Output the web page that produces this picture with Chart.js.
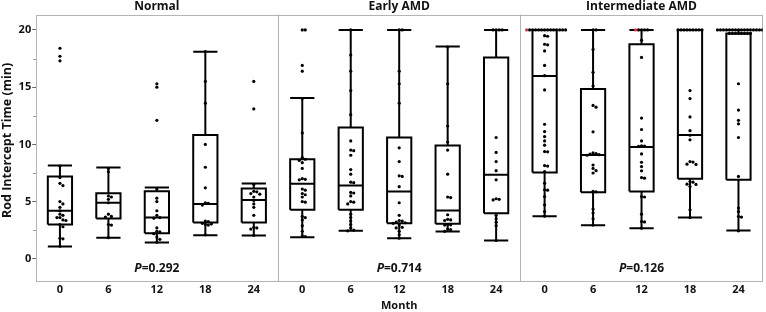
<!DOCTYPE html>
<html>
<head>
<meta charset="utf-8">
<script src="https://cdn.jsdelivr.net/npm/chart.js@4/dist/chart.umd.min.js"></script>
<style>
html,body{margin:0;padding:0;background:#fff;}
canvas{display:block;}
</style>
</head>
<body>
<canvas id="c" width="766" height="312"></canvas>
<script>
// ---------- data ----------
const months = ['0', '6', '12', '18', '24'];
const panels = ['Normal', 'Early AMD', 'Intermediate AMD'];
const pValues = ['0.292', '0.714', '0.126'];
const yTicks = [0, 5, 10, 15, 20];
const yTitle = 'Rod Intercept Time (min)';

// box statistics, 15 entries: Normal 0..24, Early AMD 0..24, Intermediate AMD 0..24
const whiskerLow  = [1.07, 1.83, 1.43, 2.07, 2.04,  1.89, 2.45, 1.80, 2.39, 1.60,  3.73, 2.94, 2.68, 3.61, 2.47];
const q1          = [3.00, 3.52, 2.24, 3.17, 3.17,  4.28, 4.28, 3.11, 3.06, 3.99,  7.54, 5.82, 5.88, 6.99, 6.90];
const median      = [4.19, 4.89, 3.61, 4.80, 5.15,  6.55, 6.40, 5.88, 4.22, 7.34, 15.98, 9.08, 9.78, 10.83, 19.70];
const q3          = [7.19, 5.74, 5.91, 10.83, 6.14, 8.70, 11.47, 10.60, 9.90, 17.60, 20.0, 14.85, 18.75, 20.0, 19.70];
const whiskerHigh = [8.15, 7.97, 6.23, 18.10, 6.58, 14.06, 20.0, 20.0, 18.55, 20.0,  20.0, 20.0, 20.0, 20.0, 20.0];

const normalPoints = [
  [18.4, 17.7, 17.3, 8.1, 7.1, 6.6, 6.4, 5.0, 4.8, 4.5, 4.2, 3.9, 3.8, 3.6, 3.6, 3.4, 3.35, 3.0, 2.8, 1.8, 1.75, 1.1],
  [7.9, 7.6, 5.5, 5.4, 5.2, 4.9, 3.9, 3.7, 3.65, 3.0, 2.95, 1.85],
  [15.3, 15.0, 12.1, 6.1, 5.3, 5.0, 4.2, 3.8, 3.6, 3.55, 2.7, 2.4, 2.35, 2.2, 1.9, 1.7, 1.45],
  [18.1, 15.5, 13.6, 10.0, 8.0, 6.2, 4.9, 4.85, 4.7, 3.3, 3.25, 3.1, 3.05, 3.0, 2.95, 2.1],
  [15.5, 13.1, 6.5, 5.9, 5.85, 5.7, 5.65, 5.4, 5.1, 4.8, 4.5, 3.8, 2.75, 2.7, 2.6, 2.05]
];
const earlyPoints = [
  [20, 20, 16.9, 16.4, 14.0, 11.0, 8.85, 8.7, 8.6, 8.4, 7.9, 7.0, 6.95, 6.9, 6.1, 6.0, 5.7, 5.6, 5.4, 5.0, 4.95, 3.7, 3.6, 3.4, 2.9, 2.4, 2.0, 1.95],
  [20, 17.8, 16.4, 14.7, 12.6, 10.3, 9.5, 9.45, 9.05, 7.8, 7.4, 6.7, 6.65, 5.8, 5.75, 5.5, 5.0, 4.95, 4.8, 3.9, 3.6, 3.3, 3.0, 2.7, 2.5, 2.45],
  [20, 20, 16.4, 15.3, 13.6, 9.7, 8.5, 7.25, 7.2, 6.3, 4.9, 3.8, 3.35, 3.3, 3.2, 3.15, 3.1, 2.95, 2.75, 2.7, 2.4, 2.1, 1.8],
  [18.5, 15.3, 11.6, 10.2, 9.5, 7.4, 5.4, 5.35, 3.85, 3.45, 3.4, 3.35, 3.0, 2.97, 2.95, 2.6, 2.55, 2.4],
  [20, 20, 20, 20, 10.6, 9.3, 8.5, 7.7, 6.9, 5.25, 5.2, 5.15, 3.8, 3.5, 3.2, 2.9, 1.6]
];
const intermediatePoints = [
  [20, 20, 20, 20, 20, 20, 20, 20, 20, 20, 20, 20, 20, 20, 19.5, 19.45, 18.75, 18.7, 18.17, 16.9, 16.0, 14.76, 11.76, 11.12, 10.68, 10.3, 9.93, 9.37, 9.35, 8.15, 8.1, 7.63, 6.61, 6.03, 6.0, 5.44, 4.72, 4.13, 3.73],
  [20, 20, 18.3, 16.3, 15.1, 13.4, 13.25, 11.1, 9.25, 9.2, 9.15, 9.1, 9.05, 8.2, 7.9, 7.7, 7.5, 5.9, 5.85, 4.35, 4.0, 3.5, 2.95],
  [20, 20, 20, 20, 20, 19.1, 17.6, 12.3, 11.3, 10.3, 9.87, 9.85, 9.83, 9.17, 8.44, 8.06, 7.69, 7.1, 7.05, 5.44, 5.4, 3.9, 3.26, 3.22, 2.68],
  [20, 20, 20, 20, 20, 20, 20, 20, 20, 14.7, 14.0, 12.4, 11.2, 10.8, 10.4, 8.5, 8.45, 8.27, 8.25, 6.75, 6.7, 6.52, 6.5, 6.32, 4.28, 3.6],
  [20, 20, 20, 20, 20, 20, 20, 20, 20, 20, 20, 20, 20, 20, 20, 20, 19.7, 19.7, 19.7, 19.7, 19.7, 19.7, 19.7, 19.7, 15.3, 13.0, 12.1, 11.8, 10.6, 7.2, 4.43, 4.13, 3.69, 3.65, 2.45]
];
// highlighted (red) rows: [panel, month index, value]
const highlighted = [[2, 0, 20], [2, 2, 20]];

// ---------- build datasets ----------
const BOX_HALF = 0.25;
const PX_X = 48.47, PX_Y = 11.45, DOT = 3.0; // approx pixel scale, only for swarm spreading
const allGroups = [normalPoints, earlyPoints, intermediatePoints];

const boxData = [];
for (let i = 0; i < 15; i++) {
  const c = i, a = c - BOX_HALF, b = c + BOX_HALF;
  const br = () => boxData.push({x: c, y: null});
  boxData.push({x: a, y: q1[i]}, {x: b, y: q1[i]}, {x: b, y: q3[i]}, {x: a, y: q3[i]}, {x: a, y: q1[i]}); br();
  boxData.push({x: a, y: median[i]}, {x: b, y: median[i]}); br();
  boxData.push({x: c, y: q3[i]}, {x: c, y: whiskerHigh[i]}); br();
  boxData.push({x: a, y: whiskerHigh[i]}, {x: b, y: whiskerHigh[i]}); br();
  boxData.push({x: c, y: q1[i]}, {x: c, y: whiskerLow[i]}); br();
  boxData.push({x: a, y: whiskerLow[i]}, {x: b, y: whiskerLow[i]}); br();
}

const pointData = [], pointColors = [];
allGroups.forEach((group, p) => {
  group.forEach((vals, m) => {
    const c = p * 5 + m;
    const placed = [];
    const step = DOT / PX_X;
    vals.forEach(v => {
      let k = 0, off = 0;
      for (;;) {
        off = (k === 0 ? 0 : (k % 2 ? 1 : -1) * Math.ceil(k / 2)) * step;
        const hit = placed.some(q => {
          const dx = (q.off - off) * PX_X, dy = (q.v - v) * PX_Y;
          return dx * dx + dy * dy < DOT * DOT * 0.95;
        });
        if (!hit) break;
        k++;
      }
      placed.push({v, off});
    });
    const red = new Set();
    highlighted.filter(h => h[0] === p && h[1] === m).forEach(h => {
      let best = -1;
      placed.forEach((q, idx) => { if (q.v === h[2] && (best < 0 || q.off < placed[best].off)) best = idx; });
      if (best >= 0) red.add(best);
    });
    placed.forEach((q, idx) => {
      pointData.push({x: c + q.off, y: q.v});
      pointColors.push(red.has(idx) ? '#e0304a' : '#000');
    });
  });
});

const FONT = "'Open Sans', 'DejaVu Sans', sans-serif";

const decor = {
  id: 'decor',
  beforeDatasetsDraw(chart) {
    const {ctx, chartArea: ca, scales: {x, y}} = chart;
    ctx.save();
    ctx.strokeStyle = '#b4b4b4';
    ctx.lineWidth = 1;
    ctx.strokeRect(Math.round(ca.left) + 0.5, Math.round(ca.top) + 0.5, Math.round(ca.right - ca.left) - 1, Math.round(ca.bottom - ca.top) - 1);
    [4.5, 9.5].forEach(v => {
      const px = Math.round(x.getPixelForValue(v)) + 0.5;
      ctx.beginPath(); ctx.moveTo(px, ca.top); ctx.lineTo(px, ca.bottom); ctx.stroke();
    });
    // minor y ticks
    ctx.strokeStyle = '#888';
    for (let v = 2.5; v < 21; v += 5) {
      const py = Math.round(y.getPixelForValue(v)) + 0.5;
      ctx.beginPath(); ctx.moveTo(ca.left - 2.5, py); ctx.lineTo(ca.left, py); ctx.stroke();
    }
    ctx.restore();
  },
  afterDraw(chart) {
    const {ctx, chartArea: ca, scales: {x, y}} = chart;
    ctx.save();
    ctx.fillStyle = '#111';
    ctx.textAlign = 'center';
    ctx.textBaseline = 'middle';
    // y axis title
    ctx.save();
    ctx.translate(7, y.getPixelForValue(10.35));
    ctx.rotate(-Math.PI / 2);
    ctx.font = `bold 12.5px ${FONT}`;
    ctx.fillText(yTitle, 0, 0);
    ctx.restore();
    panels.forEach((t, p) => {
      ctx.font = `bold 12px ${FONT}`;
      ctx.fillText(t, x.getPixelForValue(p * 5 + 2), ca.top - 8);
      const py = y.getPixelForValue(-0.85);
      const cx = x.getPixelForValue(p * 5 + 2);
      ctx.font = `italic bold 12px ${FONT}`;
      const wP = ctx.measureText('P').width;
      ctx.font = `bold 12px ${FONT}`;
      const rest = '=' + pValues[p];
      const wR = ctx.measureText(rest).width;
      const start = cx - (wP + wR) / 2;
      ctx.textAlign = 'left';
      ctx.font = `italic bold 12px ${FONT}`;
      ctx.fillText('P', start, py);
      ctx.font = `bold 12px ${FONT}`;
      ctx.fillText(rest, start + wP, py);
      ctx.textAlign = 'center';
    });
    ctx.restore();
  }
};

new Chart(document.getElementById('c'), {
  data: {
    datasets: [
      {
        type: 'scatter',
        data: pointData,
        pointRadius: 1.6,
        pointHoverRadius: 1.6,
        pointBorderWidth: 0,
        pointBackgroundColor: pointColors,
        order: 0
      },
      {
        type: 'line',
        data: boxData,
        borderColor: '#000',
        borderWidth: 2,
        pointRadius: 0,
        spanGaps: false,
        tension: 0,
        fill: false,
        order: 1
      }
    ]
  },
  plugins: [decor],
  options: {
    responsive: false,
    animation: false,
    devicePixelRatio: 1,
    layout: {padding: {top: 14.5, right: 3.3, left: 0, bottom: 0}},
    plugins: {legend: {display: false}, tooltip: {enabled: false}},
    scales: {
      x: {
        type: 'linear',
        min: -0.5, max: 14.5,
        afterBuildTicks: s => { s.ticks = Array.from({length: 15}, (_, i) => ({value: i})); },
        afterFit: s => { s.height = 30.3; },
        ticks: {
          callback: v => months[v % 5],
          font: {family: FONT, size: 11, weight: 'bold'},
          color: '#111',
          maxRotation: 0,
          autoSkip: false,
          padding: 2
        },
        grid: {display: false, drawTicks: false},
        border: {display: false},
        title: {display: true, text: 'Month', font: {family: FONT, size: 11, weight: 'bold'}, color: '#111', padding: {top: 0, bottom: 0}}
      },
      y: {
        type: 'linear',
        min: -2, max: 21.35,
        afterBuildTicks: s => { s.ticks = yTicks.map(v => ({value: v})); },
        afterFit: s => { s.width = 35.7; },
        ticks: {
          font: {family: FONT, size: 11, weight: 'bold'},
          color: '#111',
          padding: 1
        },
        grid: {drawOnChartArea: false, drawTicks: true, tickLength: 3.5, color: '#666'},
        border: {display: false},
        title: {display: false}
      }
    }
  }
});
</script>
</body>
</html>
